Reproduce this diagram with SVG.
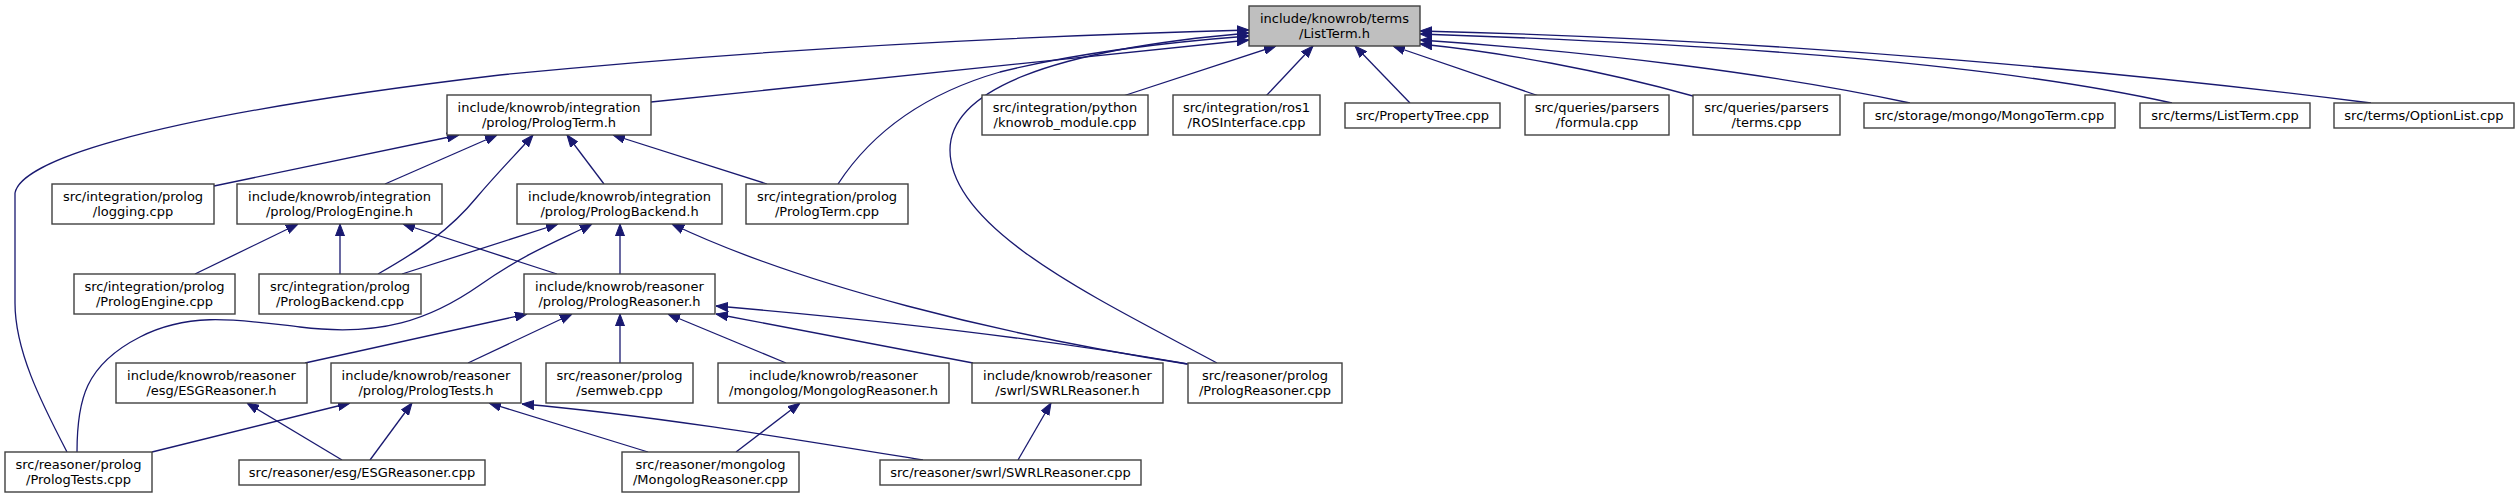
<svg xmlns="http://www.w3.org/2000/svg" width="2518" height="499" viewBox="0 0 2518 499">
<style>
.n rect{fill:#ffffff;stroke:#404040;stroke-width:1.4}
.n.root rect{fill:#bfbfbf}
.n text{font-family:"DejaVu Sans",sans-serif;font-size:13px;fill:#000;text-anchor:middle}
.e path{fill:none;stroke:#191970;stroke-width:1.3;marker-end:url(#ah)}
</style>
<defs>
<marker id="ah" markerWidth="12" markerHeight="10" refX="12" refY="5" orient="auto" markerUnits="userSpaceOnUse">
<path d="M0,0.5 L12,5 L0,9.5 z" fill="#191970" stroke="#191970" stroke-width="1"/>
</marker>
</defs>
<rect width="2518" height="499" fill="#ffffff"/>
<g id="edges" class="e">
<path d="M67,452 C40,400 15,350 15,303 L15,193 C20,165 120,120 500,75 C800,45 1100,34 1249,30"/>
<path d="M651,102 L1249,40"/>
<path d="M838,184 C870,135 920,95 1000,72 C1080,52 1170,42 1249,36"/>
<path d="M1217,363 C1100,300 950,230 950,150 C950,90 1050,50 1249,33"/>
<path d="M1123,96 L1276,46"/>
<path d="M1266,96 L1313,46"/>
<path d="M1410,103 L1355,46"/>
<path d="M1539,96 L1393,46"/>
<path d="M1693,96 C1600,70 1500,52 1420,44"/>
<path d="M1910,103 C1780,75 1600,52 1420,40"/>
<path d="M2172,103 C2000,65 1750,45 1420,34"/>
<path d="M2371,103 C2150,75 1800,40 1420,31"/>
<path d="M214,186 L459,135"/>
<path d="M385,184 L497,135"/>
<path d="M378,274 C420,250 450,230 477,197 C500,170 520,150 533,135"/>
<path d="M604,184 L567,135"/>
<path d="M767,184 L613,135"/>
<path d="M195,274 L298,224"/>
<path d="M340,274 L340,224"/>
<path d="M557,274 L403,224"/>
<path d="M402,274 L558,224"/>
<path d="M77,452 C77,400 85,365 140,337 C190,311 240,320 300,327 C380,337 430,320 480,285 C530,250 565,238 592,224"/>
<path d="M620,274 L620,224"/>
<path d="M1187,364 C1000,335 800,285 672,224"/>
<path d="M305,363 L527,314"/>
<path d="M468,363 L572,314"/>
<path d="M620,363 L620,314"/>
<path d="M786,363 L668,314"/>
<path d="M973,363 L716,314"/>
<path d="M1188,364 C1050,340 880,320 716,306"/>
<path d="M342,460 L247,403"/>
<path d="M152,452 L350,403"/>
<path d="M370,460 L412,403"/>
<path d="M648,452 L489,403"/>
<path d="M923,460 C800,440 650,415 522,404"/>
<path d="M736,452 L800,403"/>
<path d="M1018,460 L1051,403"/>
</g>
<g id="n0" class="n root"><rect x="1249" y="6" width="171" height="40"/><text x="1334.5" y="22.5">include/knowrob/terms</text><text x="1334.5" y="37.5">/ListTerm.h</text></g>
<g id="n1" class="n"><rect x="447" y="95" width="204" height="40"/><text x="549" y="111.5">include/knowrob/integration</text><text x="549" y="126.5">/prolog/PrologTerm.h</text></g>
<g id="n2" class="n"><rect x="52" y="184" width="162" height="40"/><text x="133" y="200.5">src/integration/prolog</text><text x="133" y="215.5">/logging.cpp</text></g>
<g id="n3" class="n"><rect x="237" y="184" width="205" height="40"/><text x="339.5" y="200.5">include/knowrob/integration</text><text x="339.5" y="215.5">/prolog/PrologEngine.h</text></g>
<g id="n4" class="n"><rect x="517" y="184" width="205" height="40"/><text x="619.5" y="200.5">include/knowrob/integration</text><text x="619.5" y="215.5">/prolog/PrologBackend.h</text></g>
<g id="n5" class="n"><rect x="746" y="184" width="162" height="40"/><text x="827" y="200.5">src/integration/prolog</text><text x="827" y="215.5">/PrologTerm.cpp</text></g>
<g id="n6" class="n"><rect x="982" y="95" width="166" height="40"/><text x="1065" y="111.5">src/integration/python</text><text x="1065" y="126.5">/knowrob_module.cpp</text></g>
<g id="n7" class="n"><rect x="1173" y="95" width="147" height="40"/><text x="1246.5" y="111.5">src/integration/ros1</text><text x="1246.5" y="126.5">/ROSInterface.cpp</text></g>
<g id="n8" class="n"><rect x="1345" y="103" width="155" height="25"/><text x="1422.5" y="120">src/PropertyTree.cpp</text></g>
<g id="n9" class="n"><rect x="1525" y="95" width="144" height="40"/><text x="1597" y="111.5">src/queries/parsers</text><text x="1597" y="126.5">/formula.cpp</text></g>
<g id="n10" class="n"><rect x="1693" y="95" width="147" height="40"/><text x="1766.5" y="111.5">src/queries/parsers</text><text x="1766.5" y="126.5">/terms.cpp</text></g>
<g id="n11" class="n"><rect x="1864" y="103" width="251" height="25"/><text x="1989.5" y="120">src/storage/mongo/MongoTerm.cpp</text></g>
<g id="n12" class="n"><rect x="2140" y="103" width="170" height="25"/><text x="2225" y="120">src/terms/ListTerm.cpp</text></g>
<g id="n13" class="n"><rect x="2334" y="103" width="180" height="25"/><text x="2424" y="120">src/terms/OptionList.cpp</text></g>
<g id="n14" class="n"><rect x="74" y="274" width="161" height="40"/><text x="154.5" y="290.5">src/integration/prolog</text><text x="154.5" y="305.5">/PrologEngine.cpp</text></g>
<g id="n15" class="n"><rect x="259" y="274" width="162" height="40"/><text x="340" y="290.5">src/integration/prolog</text><text x="340" y="305.5">/PrologBackend.cpp</text></g>
<g id="n16" class="n"><rect x="524" y="274" width="191" height="40"/><text x="619.5" y="290.5">include/knowrob/reasoner</text><text x="619.5" y="305.5">/prolog/PrologReasoner.h</text></g>
<g id="n17" class="n"><rect x="116" y="363" width="191" height="40"/><text x="211.5" y="379.5">include/knowrob/reasoner</text><text x="211.5" y="394.5">/esg/ESGReasoner.h</text></g>
<g id="n18" class="n"><rect x="331" y="363" width="190" height="40"/><text x="426" y="379.5">include/knowrob/reasoner</text><text x="426" y="394.5">/prolog/PrologTests.h</text></g>
<g id="n19" class="n"><rect x="546" y="363" width="147" height="40"/><text x="619.5" y="379.5">src/reasoner/prolog</text><text x="619.5" y="394.5">/semweb.cpp</text></g>
<g id="n20" class="n"><rect x="718" y="363" width="231" height="40"/><text x="833.5" y="379.5">include/knowrob/reasoner</text><text x="833.5" y="394.5">/mongolog/MongologReasoner.h</text></g>
<g id="n21" class="n"><rect x="972" y="363" width="191" height="40"/><text x="1067.5" y="379.5">include/knowrob/reasoner</text><text x="1067.5" y="394.5">/swrl/SWRLReasoner.h</text></g>
<g id="n22" class="n"><rect x="1188" y="363" width="154" height="40"/><text x="1265" y="379.5">src/reasoner/prolog</text><text x="1265" y="394.5">/PrologReasoner.cpp</text></g>
<g id="n23" class="n"><rect x="5" y="452" width="147" height="40"/><text x="78.5" y="468.5">src/reasoner/prolog</text><text x="78.5" y="483.5">/PrologTests.cpp</text></g>
<g id="n24" class="n"><rect x="239" y="460" width="246" height="25"/><text x="362" y="477">src/reasoner/esg/ESGReasoner.cpp</text></g>
<g id="n25" class="n"><rect x="622" y="452" width="177" height="40"/><text x="710.5" y="468.5">src/reasoner/mongolog</text><text x="710.5" y="483.5">/MongologReasoner.cpp</text></g>
<g id="n26" class="n"><rect x="880" y="460" width="261" height="25"/><text x="1010.5" y="477">src/reasoner/swrl/SWRLReasoner.cpp</text></g>
</svg>
